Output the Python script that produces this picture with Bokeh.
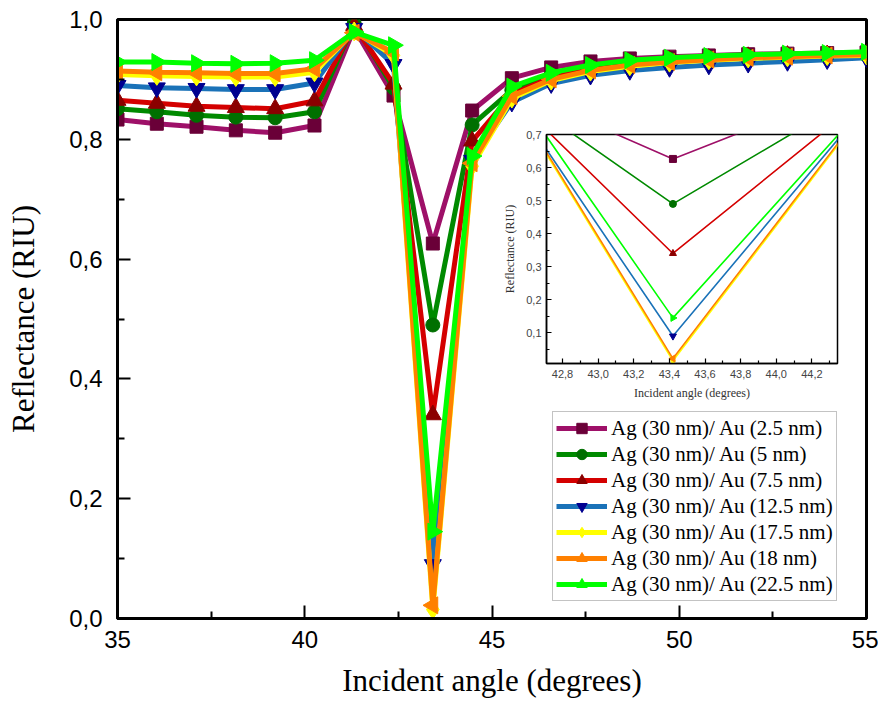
import math
from bokeh.plotting import figure
from bokeh.models import (GridBox, FixedTicker, CustomJSTickFormatter, Legend, LegendItem,
                          Range1d)
from bokeh.embed import file_html
from bokeh.resources import INLINE

# ---------------- data ----------------
angles = [35.00, 36.05, 37.11, 38.16, 39.21, 40.26, 41.32, 42.37, 43.42, 44.47,
          45.53, 46.58, 47.63, 48.68, 49.74, 50.79, 51.84, 52.89, 53.95, 55.00]

r_au_2_5 = [0.833, 0.826, 0.821, 0.815, 0.811, 0.823, 0.985, 0.873, 0.626, 0.848,
            0.902, 0.920, 0.930, 0.935, 0.938, 0.940, 0.942, 0.943, 0.944, 0.945]
r_au_5 = [0.851, 0.846, 0.840, 0.837, 0.836, 0.846, 0.993, 0.886, 0.490, 0.824,
          0.882, 0.907, 0.921, 0.929, 0.934, 0.937, 0.939, 0.941, 0.942, 0.943]
r_au_7_5 = [0.865, 0.860, 0.855, 0.853, 0.851, 0.864, 0.990, 0.892, 0.340, 0.797,
            0.875, 0.903, 0.918, 0.927, 0.932, 0.935, 0.938, 0.940, 0.941, 0.942]
r_au_12_5 = [0.890, 0.886, 0.885, 0.883, 0.883, 0.894, 0.985, 0.925, 0.090, 0.765,
             0.862, 0.893, 0.907, 0.915, 0.920, 0.924, 0.927, 0.930, 0.933, 0.936]
r_au_17_5 = [0.908, 0.906, 0.905, 0.904, 0.904, 0.912, 0.980, 0.940, 0.015, 0.755,
             0.868, 0.898, 0.913, 0.922, 0.928, 0.932, 0.935, 0.937, 0.939, 0.940]
r_au_18 = [0.914, 0.912, 0.911, 0.910, 0.910, 0.918, 0.978, 0.945, 0.022, 0.760,
           0.872, 0.900, 0.915, 0.924, 0.929, 0.933, 0.936, 0.938, 0.940, 0.941]
r_au_22_5 = [0.929, 0.929, 0.927, 0.926, 0.927, 0.932, 0.979, 0.957, 0.145, 0.772,
             0.888, 0.911, 0.924, 0.932, 0.936, 0.939, 0.941, 0.943, 0.944, 0.946]

labels = ["Ag (30 nm)/ Au (2.5 nm)", "Ag (30 nm)/ Au (5 nm)", "Ag (30 nm)/ Au (7.5 nm)",
          "Ag (30 nm)/ Au (12.5 nm)", "Ag (30 nm)/ Au (17.5 nm)", "Ag (30 nm)/ Au (18 nm)",
          "Ag (30 nm)/ Au (22.5 nm)"]
series = [r_au_2_5, r_au_5, r_au_7_5, r_au_12_5, r_au_17_5, r_au_18, r_au_22_5]

x_ticks = [35, 40, 45, 50, 55]
x_minor = [37.5, 42.5, 47.5, 52.5]
y_ticks = [0.0, 0.2, 0.4, 0.6, 0.8, 1.0]
y_minor = [0.1, 0.3, 0.5, 0.7, 0.9]

inset_x_ticks = [42.8, 43.0, 43.2, 43.4, 43.6, 43.8, 44.0, 44.2]
inset_x_minor = [42.9, 43.1, 43.3, 43.5, 43.7, 43.9, 44.1, 44.3]
inset_y_ticks = [0.1, 0.2, 0.3, 0.4, 0.5, 0.6, 0.7]
inset_y_minor = [0.05, 0.15, 0.25, 0.35, 0.45, 0.55, 0.65]

# ---------------- styles ----------------
line_colors = ["#9E1068", "#008A00", "#D40000", "#1A72B8", "#FFFF00", "#FF8000", "#00FF00"]
marker_colors = ["#6A0038", "#007000", "#8B0000", "#000090", "#FFFF00", "#FF8000", "#00FF00"]
markers = ["square", "circle", "triangle", "inverted_triangle", "diamond", "triangle", "triangle"]
angles_m = [0, 0, 0, 0, 0, math.pi / 2, -math.pi / 2]
sizes = [13, 14, 17, 17, 19, 17, 17]

comma_fmt = CustomJSTickFormatter(code="return tick.toFixed(1).replace('.', ',');")
int_fmt = CustomJSTickFormatter(code="return tick.toFixed(0);")

# ---------------- main figure ----------------
p = figure(width=878, height=705, x_range=Range1d(35, 55), y_range=Range1d(0, 1),
           output_backend="svg", toolbar_location=None,
           min_border_left=117, min_border_right=12, min_border_top=19, min_border_bottom=87)
p.xgrid.visible = False
p.ygrid.visible = False
p.outline_line_color = "black"
p.outline_line_width = 3
p.background_fill_color = "white"
p.border_fill_color = "white"

legend_items = []
for ys, lab, lc, mc, mk, an, sz in zip(series, labels, line_colors, marker_colors, markers, angles_m, sizes):
    l = p.line(angles, ys, line_color=lc, line_width=5)
    s = p.scatter(angles, ys, marker=mk, size=sz, angle=an, fill_color=mc, line_color=mc)
    legend_items.append(LegendItem(label=lab, renderers=[l, s]))

p.xaxis.ticker = FixedTicker(ticks=x_ticks, minor_ticks=x_minor)
p.yaxis.ticker = FixedTicker(ticks=y_ticks, minor_ticks=y_minor)
p.xaxis.formatter = int_fmt
p.yaxis.formatter = comma_fmt
for ax in (p.xaxis[0], p.yaxis[0]):
    ax.axis_line_width = 3
    ax.axis_line_color = "black"
    ax.major_tick_in = 13
    ax.major_tick_out = 0
    ax.minor_tick_in = 7
    ax.minor_tick_out = 0
    ax.major_tick_line_width = 2
    ax.minor_tick_line_width = 2
    ax.major_label_text_font = "Liberation Sans"
    ax.major_label_text_font_size = "24px"
    ax.major_label_text_color = "black"
    ax.axis_label_text_font = "Liberation Serif"
    ax.axis_label_text_font_size = "31px"
    ax.axis_label_text_font_style = "normal"
    ax.axis_label_text_color = "black"
p.xaxis.axis_label = "Incident angle (degrees)"
p.yaxis.axis_label = "Reflectance (RIU)"
p.xaxis.major_label_standoff = 12
p.yaxis.major_label_standoff = 15
p.xaxis.axis_label_standoff = 12
p.yaxis.axis_label_standoff = 25

legend = Legend(items=legend_items, location=(435, 17))
legend.label_text_font = "Liberation Serif"
legend.label_text_font_size = "21px"
legend.label_text_color = "black"
legend.glyph_width = 51
legend.glyph_height = 26
legend.label_height = 26
legend.spacing = 0
legend.padding = 3
legend.margin = 0
legend.label_standoff = 4
legend.border_line_color = "#888888"
legend.border_line_width = 1.5
legend.background_fill_color = "white"
legend.background_fill_alpha = 1
p.add_layout(legend)

# ---------------- inset ----------------
ins = figure(width=342, height=278, x_range=Range1d(42.71, 44.344), y_range=Range1d(0.007, 0.7),
             output_backend="svg", toolbar_location=None,
             min_border_left=46, min_border_right=5, min_border_top=10, min_border_bottom=38)
ins.xgrid.visible = False
ins.ygrid.visible = False
ins.outline_line_color = "black"
ins.outline_line_width = 1.5
ins.background_fill_color = "white"
ins.border_fill_alpha = 0

for ys, lc, mc, mk, an in zip(series, line_colors, marker_colors, markers, angles_m):
    ins.line(angles, ys, line_color=lc, line_width=1.6)
    ins.scatter(angles, ys, marker=mk, size=7, angle=an, fill_color=mc, line_color=mc)

ins.xaxis.ticker = FixedTicker(ticks=inset_x_ticks, minor_ticks=inset_x_minor)
ins.yaxis.ticker = FixedTicker(ticks=inset_y_ticks, minor_ticks=inset_y_minor)
ins.xaxis.formatter = comma_fmt
ins.yaxis.formatter = comma_fmt
for ax in (ins.xaxis[0], ins.yaxis[0]):
    ax.axis_line_width = 1.5
    ax.axis_line_color = "black"
    ax.major_tick_in = 5
    ax.major_tick_out = 0
    ax.minor_tick_in = 3
    ax.minor_tick_out = 0
    ax.major_tick_line_width = 1.2
    ax.minor_tick_line_width = 1.2
    ax.major_label_text_font = "Liberation Sans"
    ax.major_label_text_font_size = "11px"
    ax.major_label_text_color = "#444444"
    ax.axis_label_text_font = "Liberation Serif"
    ax.axis_label_text_font_style = "normal"
    ax.axis_label_text_color = "#333333"
ins.xaxis.axis_label = "Incident angle (degrees)"
ins.yaxis.axis_label = "Reflectance (RIU)"
ins.xaxis.axis_label_text_font_size = "12px"
ins.yaxis.axis_label_text_font_size = "12px"
ins.xaxis.major_label_standoff = 6
ins.yaxis.major_label_standoff = 5
ins.xaxis.axis_label_standoff = 5
ins.yaxis.axis_label_standoff = 6

grid = GridBox(children=[(p, 0, 0, 3, 3), (ins, 1, 1, 1, 1)],
               rows=["124px", "278px", "303px"], cols=["500px", "342px", "36px"], spacing=0)

open("out.html", "w").write(file_html(grid, INLINE))
